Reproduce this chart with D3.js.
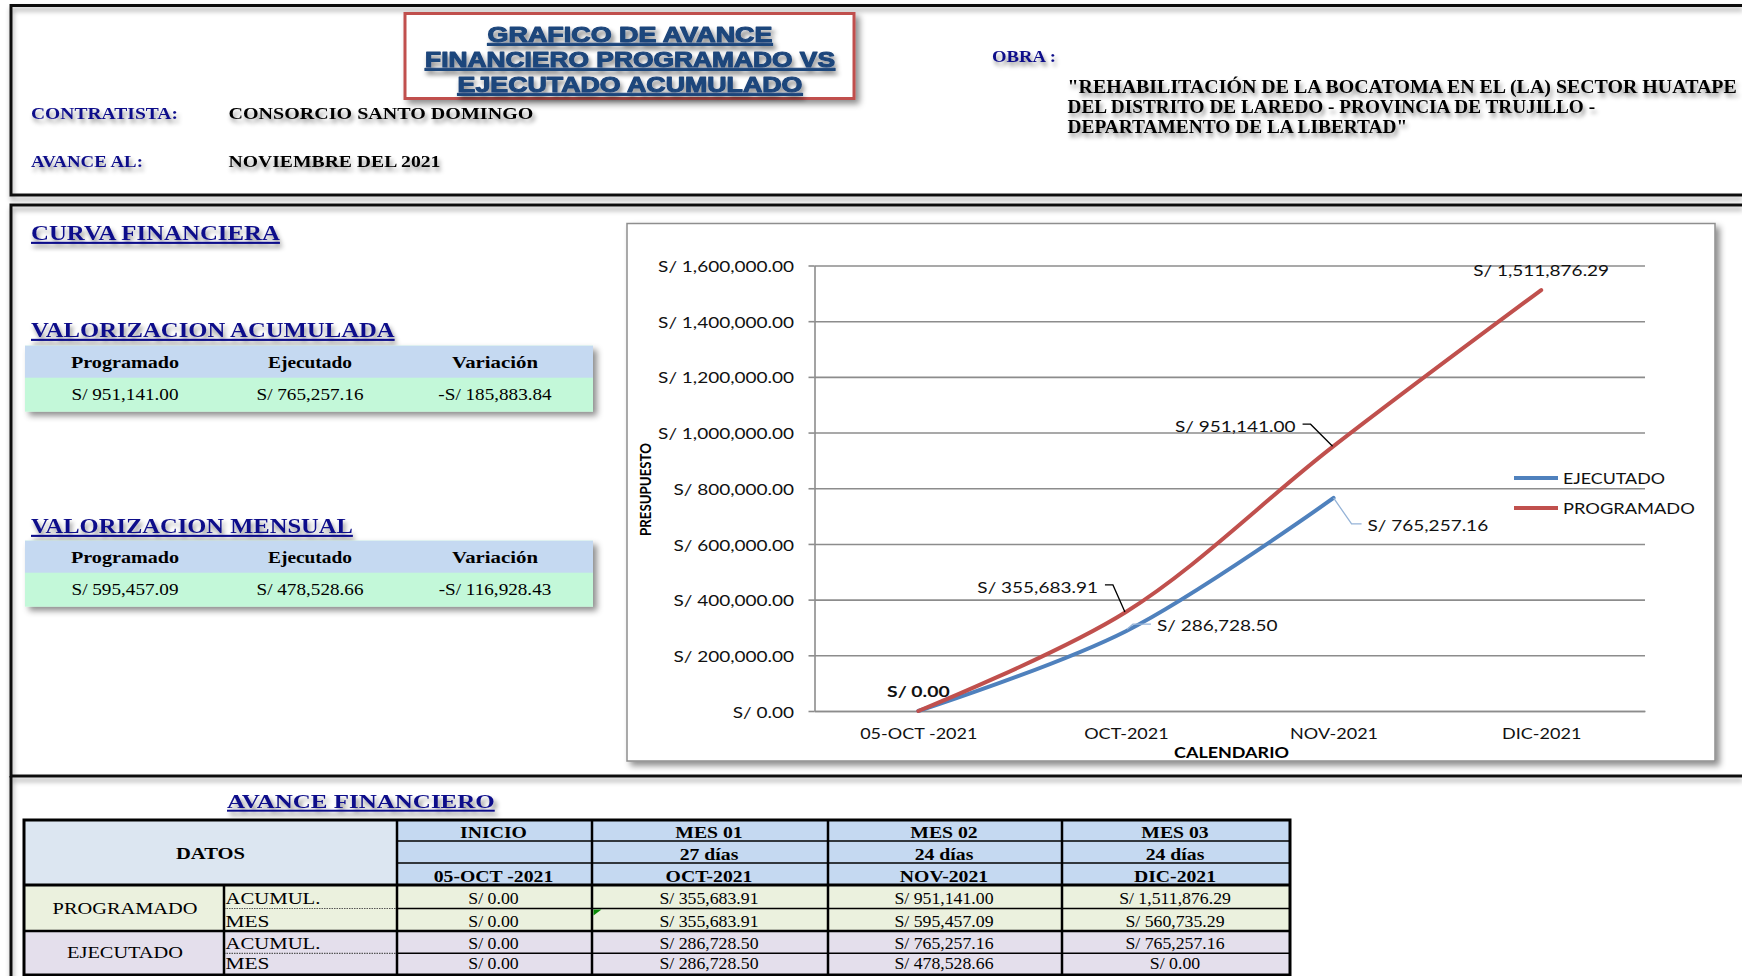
<!DOCTYPE html>
<html>
<head>
<meta charset="utf-8">
<script src="https://cdn.jsdelivr.net/npm/d3@7"></script>
<style>
  body { margin: 0; background: #fff; }
  svg { display: block; }
</style>
</head>
<body>
<svg id="sheet" width="1742" height="976"></svg>
<script>
// ---------- data ----------
const periods   = ["05-OCT -2021", "OCT-2021", "NOV-2021", "DIC-2021"];
const monthHead = ["INICIO", "MES 01", "MES 02", "MES 03"];
const monthDays = ["", "27 días", "24 días", "24 días"];
const progAcum  = [0, 355683.91, 951141.00, 1511876.29];
const progMes   = [0, 355683.91, 595457.09, 560735.29];
const ejecAcum  = [0, 286728.50, 765257.16, 765257.16];
const ejecMes   = [0, 286728.50, 478528.66, 0];
const cutIndex  = 2;                       // progress reported up to NOV-2021
const yTicks    = [0, 200000, 400000, 600000, 800000, 1000000, 1200000, 1400000, 1600000];
const summaryHead = ["Programado", "Ejecutado", "Variación"];
const acumSummary = [951141.00, 765257.16, -185883.84];
const mesSummary  = [595457.09, 478528.66, -116928.43];
const obraLines = [
  "\"REHABILITACIÓN DE LA BOCATOMA EN EL (LA) SECTOR HUATAPE",
  "DEL DISTRITO DE LAREDO - PROVINCIA DE TRUJILLO -",
  "DEPARTAMENTO DE LA LIBERTAD\""
];

// ---------- helpers ----------
const SERIF = "'Liberation Serif','Times New Roman',serif";
const SANS  = "'Liberation Sans',Arial,sans-serif";
const CHART = "Lato,'Open Sans',sans-serif";
const NAVY  = "#10108a";
const money = v => (v < 0 ? "-" : "") + "S/ " + d3.format(",.2f")(Math.abs(v));

const svg = d3.select("#sheet");
const defs = svg.append("defs");

function shadow(id, dx, dy, sd, op) {
  const f = defs.append("filter").attr("id", id)
    .attr("filterUnits", "userSpaceOnUse")
    .attr("x", -2000).attr("y", -1200).attr("width", 4000).attr("height", 3000);
  f.append("feGaussianBlur").attr("in", "SourceAlpha").attr("stdDeviation", sd).attr("result", "b");
  f.append("feOffset").attr("in", "b").attr("dx", dx).attr("dy", dy).attr("result", "o");
  f.append("feFlood").attr("flood-color", "#000").attr("flood-opacity", op).attr("result", "c");
  f.append("feComposite").attr("in", "c").attr("in2", "o").attr("operator", "in").attr("result", "s");
  const m = f.append("feMerge");
  m.append("feMergeNode").attr("in", "s");
  m.append("feMergeNode").attr("in", "SourceGraphic");
}
shadow("tshadow", 2, 4, 2.2, 0.45);
shadow("bshadow", 4, 4, 3, 0.45);
shadow("fshadow", 1, 4, 2.5, 0.35);

function txt(parent, s, x, y, o = {}) {
  const t = parent.append("text")
    .attr("font-family", o.family || SERIF)
    .attr("font-size", o.size || 16)
    .attr("font-weight", o.weight || "normal")
    .attr("fill", o.fill || "#000")
    .attr("text-anchor", o.anchor || "start")
    .text(s);
  if (o.underline) t.attr("text-decoration", "underline");
  if (o.filter) t.attr("filter", o.filter);
  if (o.stroke) t.attr("stroke", o.fill || "#000").attr("stroke-width", o.stroke).attr("stroke-linejoin", "round");
  let sx = o.sx || 1;
  if (o.w) sx = o.w / t.node().getComputedTextLength();
  t.attr("transform", `translate(${x},${y})${o.rot ? ` rotate(${o.rot})` : ""} scale(${sx},1)`);
  return t;
}

// ---------- sheet frame ----------
const frame = svg.append("g").attr("fill", "none").attr("stroke", "#111").attr("stroke-width", 3)
  .attr("filter", "url(#fshadow)");
frame.append("path").attr("d", "M1742,5.5H11V195H1742");
frame.append("path").attr("d", "M1742,205H11V776H1742");
frame.append("path").attr("d", "M11,776V980");

// ---------- header ----------
const head = svg.append("g");
head.append("rect").attr("x", 405).attr("y", 13.5).attr("width", 449).attr("height", 85)
  .attr("fill", "#fff").attr("stroke", "#c0504d").attr("stroke-width", 3).attr("filter", "url(#bshadow)");
const titleLines = [["GRAFICO DE AVANCE", 41.5, 285], ["FINANCIERO PROGRAMADO VS", 66.5, 410], ["EJECUTADO ACUMULADO", 91.5, 345]];
titleLines.forEach(([s, y, w]) => txt(head, s, 630, y, { family: SANS, size: 21.5, weight: "bold", fill: "#1f467b",
  anchor: "middle", underline: true, w, stroke: 1.1, filter: "url(#tshadow)" }));

const hs = { size: 17.5, weight: "bold", filter: "url(#tshadow)" };
txt(head, "CONTRATISTA:", 31, 119, { ...hs, fill: NAVY, w: 147 });
txt(head, "CONSORCIO SANTO DOMINGO", 228.5, 119, { ...hs, w: 305 });
txt(head, "AVANCE AL:", 31, 166.5, { ...hs, fill: NAVY, w: 112 });
txt(head, "NOVIEMBRE DEL 2021", 228.5, 166.5, { ...hs, w: 212 });
txt(head, "OBRA :", 992, 61.5, { ...hs, fill: NAVY, w: 64 });
[670, 528, 340].forEach((w, i) => txt(head, obraLines[i], 1067.5, 93.3 + i * 19.6, { ...hs, size: 18, w }));

// ---------- section titles ----------
const st = { size: 21, weight: "bold", fill: NAVY, underline: true, filter: "url(#tshadow)" };
txt(svg, "CURVA FINANCIERA", 31, 240, { ...st, w: 249 });
txt(svg, "VALORIZACION ACUMULADA", 31, 337, { ...st, w: 364 });
txt(svg, "VALORIZACION MENSUAL", 31, 533, { ...st, w: 322 });
txt(svg, "AVANCE FINANCIERO", 227, 808, { ...st, size: 19.5, w: 268 });

// ---------- summary tables ----------
function summaryTable(y0, values) {
  const g = svg.append("g");
  g.append("rect").attr("x", 25).attr("y", y0).attr("width", 568).attr("height", 66)
    .attr("fill", "#c3f8d9").attr("filter", "url(#bshadow)");
  g.append("rect").attr("x", 25).attr("y", y0).attr("width", 568).attr("height", 32).attr("fill", "#c5d9f1");
  const cx = [125, 310, 495];
  const hw = [108, 84, 86];
  summaryHead.forEach((h, i) => txt(g, h, cx[i], y0 + 22.3, { size: 17, weight: "bold", anchor: "middle", w: hw[i] }));
  let sx = null;
  values.forEach((v, i) => {
    const t = txt(g, money(v), cx[i], y0 + 54.3, { size: 16, anchor: "middle", sx: sx || 1 });
    if (!sx) { sx = 107 / t.node().getComputedTextLength(); t.attr("transform", `translate(${cx[i]},${y0 + 54.3}) scale(${sx},1)`); }
  });
}
summaryTable(345.7, acumSummary);
summaryTable(540.7, mesSummary);

// ---------- chart ----------
const box = svg.append("g");
box.append("rect").attr("x", 627).attr("y", 223.5).attr("width", 1088).attr("height", 537.5)
  .attr("fill", "#fff").attr("stroke", "#8e8e8e").attr("stroke-width", 1.5).attr("filter", "url(#bshadow)");

const X0 = 814.5, X1 = 1645;
const x = d3.scalePoint().domain(periods).range([X0, X1]).padding(0.5);
const y = d3.scaleLinear().domain([0, 1600000]).range([711, 265.5]);
const GRID = "#8c8c8c";

const plot = svg.append("g");
plot.append("g").attr("transform", `translate(${X0},0)`)
  .call(d3.axisRight(y).tickValues(yTicks).tickSize(X1 - X0).tickFormat(""))
  .call(g => g.select(".domain").remove())
  .call(g => g.selectAll(".tick line").attr("stroke", GRID).attr("stroke-width", 1.6));

const yAxis = plot.append("g").attr("transform", `translate(${X0},0)`)
  .call(d3.axisLeft(y).tickValues(yTicks).tickSizeInner(6).tickSizeOuter(0).tickFormat(money));
yAxis.attr("font-family", CHART).attr("font-size", 16);
yAxis.select(".domain").attr("stroke", GRID).attr("stroke-width", 1.6);
yAxis.selectAll(".tick line").attr("stroke", GRID).attr("stroke-width", 1.6);
const yText = yAxis.selectAll(".tick text").attr("fill", "#111");
const widest = yText.filter(d => d === 1600000).node().getComputedTextLength();
const csx = 136 / widest;
yText.attr("x", -20.5 / csx).attr("dy", "0.38em").attr("transform", `scale(${csx},1)`);

const xAxis = plot.append("g").attr("transform", "translate(0,711)")
  .call(d3.axisBottom(x).tickSize(0).tickSizeOuter(0));
xAxis.attr("font-family", CHART).attr("font-size", 15);
xAxis.select(".domain").attr("stroke", GRID).attr("stroke-width", 1.6);
const xText = xAxis.selectAll(".tick text").attr("fill", "#111").attr("y", 28.5).attr("dy", 0);
const nov = xText.filter(d => d === "NOV-2021").node().getComputedTextLength();
xText.attr("transform", `scale(${88 / nov},1)`);

txt(plot, "PRESUPUESTO", 650.5, 489.5, { family: CHART, size: 16, weight: "bold", anchor: "middle", rot: -90, w: 93 });
txt(plot, "CALENDARIO", 1231.5, 757.5, { family: CHART, size: 16, weight: "bold", anchor: "middle", w: 115 });

const line = d3.line().x((d, i) => x(periods[i])).y(d => y(d)).curve(d3.curveCatmullRom.alpha(0.5));
const series = [
  { name: "EJECUTADO", values: ejecAcum.slice(0, cutIndex + 1), color: "#4f81bd", leader: "#95b3d7" },
  { name: "PROGRAMADO", values: progAcum, color: "#c0504d", leader: "#000" }
];
series.forEach(s => plot.append("path").datum(s.values).attr("d", line)
  .attr("fill", "none").attr("stroke", s.color).attr("stroke-width", 4).attr("stroke-linecap", "round"));

// data label placement relative to each point
const labelPlacement = {
  PROGRAMADO: [
    { dx: 0, dy: -14, anchor: "middle", bold: true },
    { dx: -28, dy: -19, anchor: "end", leader: [[-21, -27], [-13, -27], [-1, 0]] },
    { dx: -38, dy: -14, anchor: "end", leader: [[-31, -22], [-23, -22], [-1, 0]] },
    { dx: 0, dy: -14, anchor: "middle" }
  ],
  EJECUTADO: [
    null,
    { dx: 31, dy: 0, anchor: "start", leader: [[1, -2], [7, -7], [25, -7]] },
    { dx: 34, dy: 33, anchor: "start", leader: [[0, 0], [18, 26], [28, 26]] }
  ]
};
const labels = svg.append("g");
series.forEach(s => s.values.forEach((v, i) => {
  const p = labelPlacement[s.name][i];
  if (!p) return;
  const px = x(periods[i]), py = y(v);
  if (p.leader) labels.append("polyline")
    .attr("points", p.leader.map(([a, b]) => `${px + a},${py + b}`).join(" "))
    .attr("fill", "none").attr("stroke", s.leader).attr("stroke-width", 1.3);
  txt(labels, money(v), px + p.dx, py + p.dy, { family: CHART, size: 16, anchor: p.anchor,
    weight: p.bold ? "bold" : "normal", fill: "#111", sx: p.bold ? csx * 1.02 : csx });
}));

// legend
const legend = svg.append("g");
const legW = { EJECUTADO: 102, PROGRAMADO: 132 };
series.forEach((s, i) => {
  const ly = 478 + i * 30;
  legend.append("line").attr("x1", 1514).attr("x2", 1558).attr("y1", ly).attr("y2", ly)
    .attr("stroke", s.color).attr("stroke-width", 4);
  txt(legend, s.name, 1563, ly + 5.5, { family: CHART, size: 15, fill: "#111", w: legW[s.name] });
});

// ---------- AVANCE FINANCIERO table ----------
const tCols = [24, 224, 397, 592, 828, 1062, 1290];
const tRows = [820, 841, 863, 885, 908.5, 931, 953.3, 975];
const tab = svg.append("g");
tab.append("rect").attr("x", tCols[0]).attr("y", tRows[0]).attr("width", tCols[2] - tCols[0]).attr("height", tRows[3] - tRows[0]).attr("fill", "#dce6f1");
tab.append("rect").attr("x", tCols[2]).attr("y", tRows[0]).attr("width", tCols[6] - tCols[2]).attr("height", tRows[3] - tRows[0]).attr("fill", "#c5d9f1");
tab.append("rect").attr("x", tCols[0]).attr("y", tRows[3]).attr("width", tCols[6] - tCols[0]).attr("height", tRows[5] - tRows[3]).attr("fill", "#ebf1de");
tab.append("rect").attr("x", tCols[0]).attr("y", tRows[5]).attr("width", tCols[6] - tCols[0]).attr("height", tRows[7] - tRows[5]).attr("fill", "#e4dfec");

const hl = (x1, x2, yy, w, dash) => tab.append("line").attr("x1", x1).attr("x2", x2).attr("y1", yy).attr("y2", yy)
  .attr("stroke", dash ? "#555" : "#000").attr("stroke-width", w).attr("stroke-dasharray", dash || null);
const vl = (xx, y1, y2, w) => tab.append("line").attr("x1", xx).attr("x2", xx).attr("y1", y1).attr("y2", y2)
  .attr("stroke", "#000").attr("stroke-width", w);
hl(tCols[2], tCols[6], tRows[1], 1.5);
hl(tCols[2], tCols[6], tRows[2], 1.5);
hl(tCols[0], tCols[6], tRows[3], 3);
hl(tCols[1], tCols[2], tRows[4], 1.2, "1.5,1");
hl(tCols[2], tCols[6], tRows[4], 1.5);
hl(tCols[0], tCols[6], tRows[5], 2.5);
hl(tCols[1], tCols[2], tRows[6], 1.2, "1.5,1");
hl(tCols[2], tCols[6], tRows[6], 1.5);
vl(tCols[1], tRows[3], tRows[7], 2.5);
[3, 4, 5].forEach(c => vl(tCols[c], tRows[0], tRows[7], 2.5));
vl(tCols[2], tRows[0], tRows[7], 2.5);
tab.append("rect").attr("x", tCols[0]).attr("y", tRows[0]).attr("width", tCols[6] - tCols[0]).attr("height", tRows[7] - tRows[0])
  .attr("fill", "none").attr("stroke", "#000").attr("stroke-width", 3);

// Excel note marker in the first MES cell
tab.append("path").attr("d", `M${tCols[3] + 1.5},${tRows[4] + 1}h8l-8,6z`).attr("fill", "#0a8a0a");

txt(tab, "DATOS", 210.5, 859, { size: 17, weight: "bold", anchor: "middle", w: 69 });
txt(tab, "PROGRAMADO", 125, 913.5, { size: 16, anchor: "middle", w: 145 });
txt(tab, "EJECUTADO", 125, 958, { size: 16, anchor: "middle", w: 116 });
const rowBase = [904, 926.5, 949, 968.8];
[["ACUMUL.", 95], ["MES", 44], ["ACUMUL.", 95], ["MES", 44]]
  .forEach(([s, w], r) => txt(tab, s, 225.5, rowBase[r], { size: 16, w }));

const headRows = [monthHead, monthDays, periods];
periods.forEach((p, i) => {
  const cx = (tCols[2 + i] + tCols[3 + i]) / 2 - 1;
  headRows.forEach((row, r) => { if (row[i]) txt(tab, row[i], cx, tRows[r + 1] - 3.5, { size: 17, weight: "bold", anchor: "middle", sx: 1.16 }); });
  [progAcum, progMes, ejecAcum, ejecMes].forEach((row, r) =>
    txt(tab, money(row[i]), cx, rowBase[r], { size: 16, anchor: "middle", sx: 1.11 }));
});
</script>
</body>
</html>
